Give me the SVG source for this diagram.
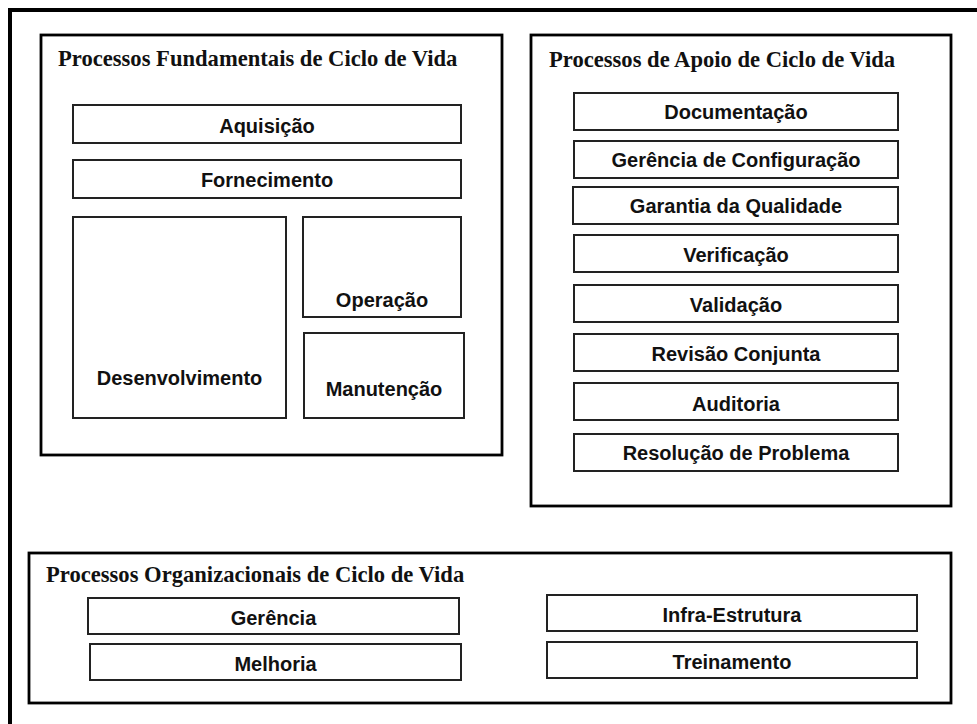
<svg xmlns="http://www.w3.org/2000/svg" width="977" height="724" viewBox="0 0 977 724">
<style>
.grp{fill:#fff;stroke:#000;stroke-width:2.8}
.box{fill:#fff;stroke:#222;stroke-width:2}
.title{font-family:"Liberation Serif","Times New Roman",serif;font-weight:bold;font-size:22.6px;fill:#111}
.lbl{font-family:"Liberation Sans",Arial,sans-serif;font-weight:bold;font-size:20px;fill:#111;text-anchor:middle}
</style>
<rect width="977" height="724" fill="#fff"/>
<path d="M10 724 V10 H977" fill="none" stroke="#000" stroke-width="4"/>
<g id="fundamentais">
<rect class="grp" x="41" y="35" width="461" height="420"/>
<text class="title" x="58" y="66">Processos Fundamentais de Ciclo de Vida</text>
</g>
<g id="aquisicao"><rect class="box" x="73" y="105" width="388" height="38"/><text class="lbl" x="267" y="133">Aquisição</text></g>
<g id="fornecimento"><rect class="box" x="73" y="160" width="388" height="38"/><text class="lbl" x="267" y="187">Fornecimento</text></g>
<g id="desenvolvimento"><rect class="box" x="73" y="217" width="213" height="201"/><text class="lbl" x="179.5" y="385">Desenvolvimento</text></g>
<g id="operacao"><rect class="box" x="303" y="217" width="158" height="100"/><text class="lbl" x="382" y="307">Operação</text></g>
<g id="manutencao"><rect class="box" x="304" y="333" width="160" height="85"/><text class="lbl" x="384" y="396">Manutenção</text></g>
<g id="apoio">
<rect class="grp" x="531" y="35" width="420" height="471"/>
<text class="title" x="549" y="67">Processos de Apoio de Ciclo de Vida</text>
</g>
<g id="documentacao"><rect class="box" x="574" y="93" width="324" height="37"/><text class="lbl" x="736" y="119">Documentação</text></g>
<g id="gerencia-config"><rect class="box" x="574" y="141" width="324" height="37"/><text class="lbl" x="736" y="167">Gerência de Configuração</text></g>
<g id="garantia"><rect class="box" x="573" y="187" width="325" height="37"/><text class="lbl" x="736" y="213">Garantia da Qualidade</text></g>
<g id="verificacao"><rect class="box" x="574" y="235" width="324" height="37"/><text class="lbl" x="736" y="262">Verificação</text></g>
<g id="validacao"><rect class="box" x="574" y="285" width="324" height="37"/><text class="lbl" x="736" y="312">Validação</text></g>
<g id="revisao"><rect class="box" x="574" y="334" width="324" height="37"/><text class="lbl" x="736" y="361">Revisão Conjunta</text></g>
<g id="auditoria"><rect class="box" x="574" y="383" width="324" height="37"/><text class="lbl" x="736" y="411">Auditoria</text></g>
<g id="resolucao"><rect class="box" x="574" y="434" width="324" height="37"/><text class="lbl" x="736" y="460">Resolução de Problema</text></g>
<g id="organizacionais">
<rect class="grp" x="29" y="553" width="922" height="150"/>
<text class="title" x="46" y="582">Processos Organizacionais de Ciclo de Vida</text>
</g>
<g id="gerencia"><rect class="box" x="88" y="598" width="371" height="36"/><text class="lbl" x="273.5" y="625">Gerência</text></g>
<g id="melhoria"><rect class="box" x="90" y="644" width="371" height="36"/><text class="lbl" x="275.5" y="671">Melhoria</text></g>
<g id="infra"><rect class="box" x="547" y="595" width="370" height="36"/><text class="lbl" x="732" y="622">Infra-Estrutura</text></g>
<g id="treinamento"><rect class="box" x="547" y="642" width="370" height="36"/><text class="lbl" x="732" y="669">Treinamento</text></g>
<g id="connectors"/>
</svg>
